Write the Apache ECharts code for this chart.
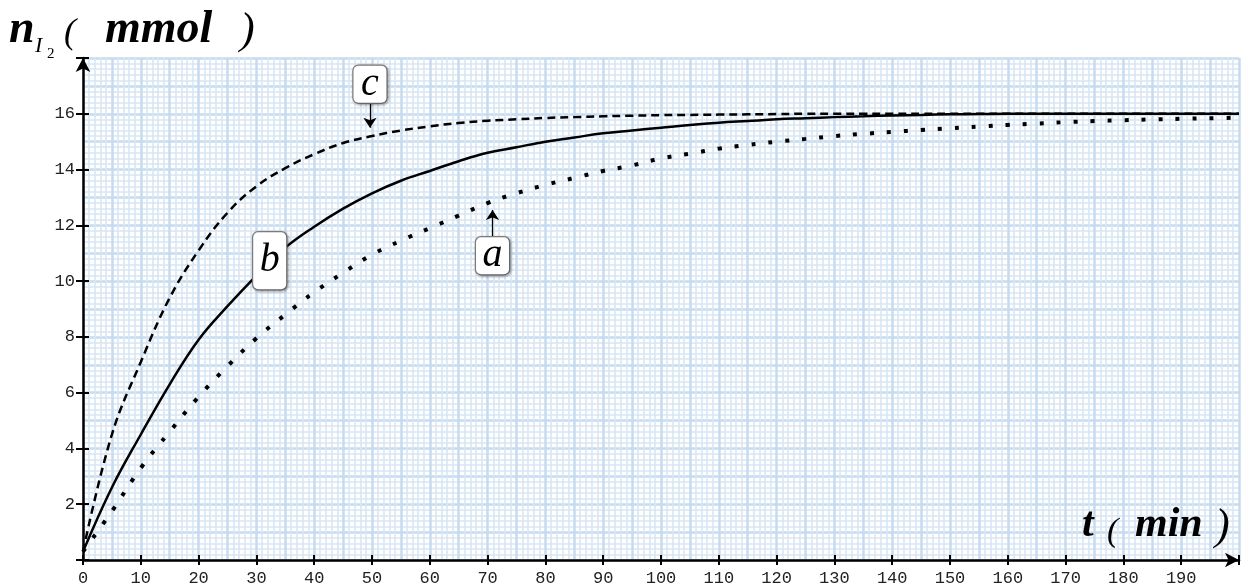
<!DOCTYPE html>
<html><head><meta charset="utf-8">
<script src="https://cdn.jsdelivr.net/npm/echarts@6/dist/echarts.min.js"></script>
<style>html,body{margin:0;padding:0;background:#fff}#c{width:1244px;height:587px}</style>
</head><body><div id="c"></div>
<script>
// sample times (min)
const times = [0,5,10,15,20,25,30,35,40,45,50,55,60,65,70,75,80,85,90,95,100,105,110,115,120,125,130,135,140,145,150,155,160,165,170,175,180,185,190,195,200];
// curve a (dotted)
const nA = [0.3,1.75,3.3,4.6,5.85,6.95,7.95,8.8,9.6,10.3,10.95,11.45,11.9,12.35,12.8,13.15,13.45,13.7,13.95,14.15,14.4,14.57,14.75,14.88,15.0,15.1,15.2,15.28,15.35,15.42,15.48,15.54,15.6,15.65,15.7,15.74,15.77,15.8,15.82,15.84,15.86];
// curve b (solid)
const nB = [0.3,2.6,4.5,6.3,7.9,9.1,10.2,11.2,11.95,12.6,13.15,13.6,13.95,14.3,14.6,14.8,15.0,15.15,15.3,15.4,15.5,15.6,15.68,15.74,15.8,15.84,15.88,15.91,15.94,15.96,15.98,15.99,16.0,16.0,16.0,16.0,16.0,16.0,16.0,16.0,16.0];
// curve c (dashed)
const nC = [0.3,4.5,7.1,9.4,11.1,12.45,13.4,14.05,14.55,14.95,15.2,15.4,15.55,15.67,15.75,15.8,15.85,15.88,15.91,15.93,15.95,15.96,15.97,15.98,15.99,16.0,16.0,16.0,16.0,16.0,16.0,16.0,16.0,16.0,16.0,16.0,16.0,16.0,16.0,16.0,16.0];
// tick labels
const xTickLabels = [0,10,20,30,40,50,60,70,80,90,100,110,120,130,140,150,160,170,180,190];
const yTickLabels = [2,4,6,8,10,12,14,16];

const pairs = ns => times.map((t, i) => [t, ns[i]]);
const chart = echarts.init(document.getElementById('c'), null, {renderer: 'canvas'});

const monoFont = {fontFamily: '"Liberation Mono", monospace', fontSize: 17, color: '#222'};
const boxLabel = (txt, h, padB) => ({
  show: true, position: 'inside', formatter: () => txt,
  fontFamily: '"Liberation Serif", serif', fontStyle: 'italic', fontSize: 40, color: '#000',
  backgroundColor: '#fff', borderColor: '#808080', borderWidth: 1.2, borderRadius: 5,
  width: 33, height: h, lineHeight: h, padding: [0, 0, padB, 0], align: 'center',
  shadowBlur: 3, shadowColor: 'rgba(0,0,0,0.35)', shadowOffsetX: 1, shadowOffsetY: 1
});
const arrowLine = (from, to) => ({
  silent: true, symbol: ['none', 'arrow'], symbolSize: 10,
  lineStyle: {color: '#000', width: 1.3, type: 'solid'}, label: {show: false},
  data: [[{coord: from}, {coord: to}]]
});
const invisibleSym = {symbol: 'rect', symbolSize: 1, itemStyle: {color: 'rgba(0,0,0,0)'}, silent: true};

const titleFont = (w, s, sz) => `${w} ${s} ${sz}px "Liberation Serif", serif`;
const txt = (text, x, y, font) => ({type: 'text', x, y, z: 100, silent: true,
  style: {text, font, fill: '#000', align: 'left', verticalAlign: 'middle'}});

chart.setOption({
  animation: false,
  backgroundColor: '#fff',
  grid: {left: 83, right: 5, top: 58, bottom: 27, outerBoundsMode: 'none', containLabel: false},
  xAxis: [
    {type: 'value', min: 0, max: 200, interval: 10, position: 'bottom', z: 5,
     axisLine: {show: true, lineStyle: {color: '#000', width: 2.5}, symbol: ['none', 'arrow'], symbolSize: [11, 14]},
     axisTick: {show: true, inside: false, length: 5, lineStyle: {color: '#000', width: 2}},
     axisLabel: {show: true, margin: 10, ...monoFont, formatter: v => xTickLabels.includes(v) ? String(v) : ''},
     splitLine: {show: false}},
    {type: 'value', min: 0, max: 200, interval: 5, position: 'bottom', z: 0,
     axisLine: {show: false}, axisTick: {show: false}, axisLabel: {show: false},
     splitLine: {show: true, lineStyle: {color: '#c6dbef', width: 2.5}},
     minorTick: {show: false, splitNumber: 5},
     minorSplitLine: {show: true, lineStyle: {color: '#d8e6f4', width: 1.6}}},
    {type: 'value', min: 0, max: 200, interval: 10, position: 'bottom', z: 5,
     axisLine: {show: false}, axisLabel: {show: false}, splitLine: {show: false},
     axisTick: {show: true, inside: true, length: 5, lineStyle: {color: '#000', width: 2}}}
  ],
  yAxis: [
    {type: 'value', min: 0, max: 18, interval: 2, position: 'left', z: 5,
     axisLine: {show: true, lineStyle: {color: '#000', width: 2.5}, symbol: ['none', 'arrow'], symbolSize: [11, 14]},
     axisTick: {show: true, inside: false, length: 7, lineStyle: {color: '#000', width: 2}},
     axisLabel: {show: true, margin: 8, ...monoFont, formatter: v => yTickLabels.includes(v) ? String(v) : ''},
     splitLine: {show: false}},
    {type: 'value', min: 0, max: 18, interval: 1, position: 'left', z: 0,
     axisLine: {show: false}, axisTick: {show: false}, axisLabel: {show: false},
     splitLine: {show: true, lineStyle: {color: '#c6dbef', width: 2.5}},
     minorTick: {show: false, splitNumber: 5},
     minorSplitLine: {show: true, lineStyle: {color: '#d8e6f4', width: 1.6}}},
    {type: 'value', min: 0, max: 18, interval: 2, position: 'left', z: 5,
     axisLine: {show: false}, axisLabel: {show: false}, splitLine: {show: false},
     axisTick: {show: true, inside: true, length: 6, lineStyle: {color: '#000', width: 2}}}
  ],
  series: [
    {name: 'c', type: 'line', xAxisIndex: 0, yAxisIndex: 0, data: pairs(nC),
     showSymbol: false, symbol: 'none', smooth: 0.4, z: 3,
     lineStyle: {color: '#000', width: 2.5, type: [8, 5]},
     markPoint: {...invisibleSym, data: [{coord: [49.65, 17.06]}], label: boxLabel('c', 36, 1)},
     markLine: arrowLine([49.65, 16.42], [49.65, 15.5])},
    {name: 'b', type: 'line', xAxisIndex: 0, yAxisIndex: 0, data: pairs(nB),
     showSymbol: false, symbol: 'none', smooth: 0.4, z: 3,
     lineStyle: {color: '#000', width: 2.5, type: 'solid'},
     markPoint: {...invisibleSym, data: [{coord: [32.3, 10.73]}], label: boxLabel('b', 57, 0)}},
    {name: 'a', type: 'line', xAxisIndex: 0, yAxisIndex: 0, data: pairs(nA),
     showSymbol: false, symbol: 'none', smooth: 0.4, z: 3,
     lineStyle: {color: '#000', width: 4, type: [4, 13], cap: 'butt'},
     markPoint: {...invisibleSym, data: [{coord: [70.85, 10.91]}], label: boxLabel('a', 29, 8)},
     markLine: arrowLine([70.85, 11.58], [70.85, 12.55])}
  ],
  graphic: [
    txt('n', 9, 30, titleFont('bold', 'italic', 46)),
    txt('I', 35, 46.5, titleFont('normal', 'italic', 22)),
    txt('2', 47, 54, titleFont('normal', 'normal', 15)),
    txt('(', 64, 33.5, titleFont('normal', 'italic', 36)),
    txt('mmol', 105, 30, titleFont('bold', 'italic', 46)),
    txt(')', 240, 31, titleFont('normal', 'italic', 44)),
    txt('t', 1082, 525.5, titleFont('bold', 'italic', 42)),
    txt('(', 1107, 532, titleFont('normal', 'italic', 34)),
    txt('min', 1135, 525.5, titleFont('bold', 'italic', 42)),
    txt(')', 1215, 527, titleFont('normal', 'italic', 44))
  ]
});
</script></body></html>
